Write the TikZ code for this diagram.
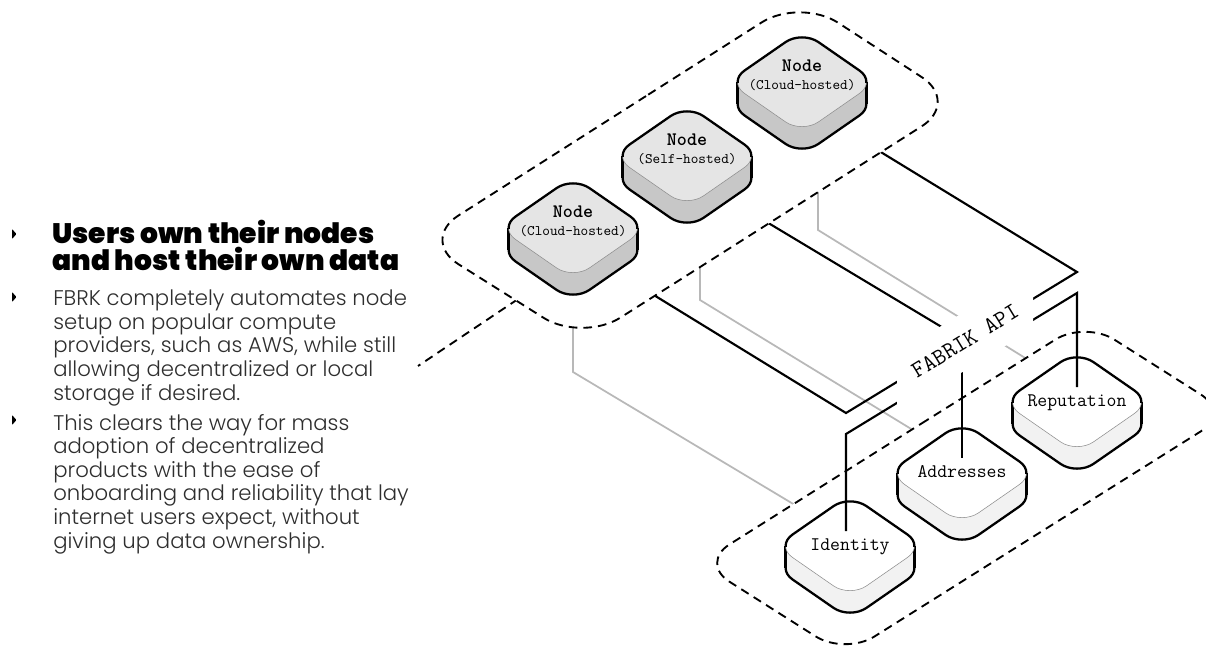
\documentclass[tikz,border=0pt]{standalone}
\usepackage{fontspec}
\newfontfamily\headfont{Poppins Black}
\newfontfamily\bodyfont{Poppins Light}
\usetikzlibrary{calc}
\pgfdeclarelayer{back}
\pgfdeclarelayer{lower}
\pgfdeclarelayer{links}
\pgfdeclarelayer{upper}
\pgfdeclarelayer{front}
\pgfsetlayers{back,lower,main,links,upper,front}
\colorlet{hostface}{black!10}
\colorlet{hostside}{black!22}
\colorlet{storeface}{white}
\colorlet{storeside}{black!5}
\colorlet{linkgray}{black!28}
\colorlet{bodygray}{black!82}
\newcommand{\subfont}{\fontsize{10.9}{12}\selectfont}

\tikzset{
  block edge/.style={line width=1.7pt, line join=round},
  plane line/.style={draw=black, line width=1.4pt, dash pattern=on 6.5pt off 4.5pt},
  plane/.style={plane line, fill=white, rounded corners=26pt},
  api link/.style={line width=1.6pt},
  data link/.style={draw=linkgray, line width=1.3pt},
  host label/.style={font=\ttfamily\fontsize{14.3}{13.5}\selectfont, align=center, yshift=5.25pt},
  store label/.style={font=\ttfamily\fontsize{14.4}{16}\selectfont, text height=9pt, text depth=3pt, inner sep=5pt},
  api label/.style={font=\ttfamily\fontsize{17.6}{20}\selectfont, rotate=31.4},
  heading/.style={anchor=base west, inner sep=0pt, align=left, font=\headfont\fontsize{21.1}{20.25}\selectfont},
  body/.style={anchor=base west, inner sep=0pt, align=left, text=bodygray, font=\bodyfont\fontsize{15.9}{17.7}\selectfont},
  bullet/.style={fill=black, rounded corners=0.6pt},
}

% rounded isometric block: #1 name, #2 centre, #3 face, #4 side, #5 label style, #6 text
\newcommand{\isoblock}[6]{%
  \filldraw[block edge, fill=#4, rounded corners=15pt] ($(#2)+(-37,47.65)$) -- ($(#2)+(-74,22)$) -- ($(#2)+(0,-29.3)$) -- ($(#2)+(74,22)$) -- ($(#2)+(0,73.3)$) -- cycle;
  \fill[#4] ($(#2)+(-64.4,0)$) rectangle ($(#2)+(64.4,22)$);
  \draw[block edge] ($(#2)+(-64.4,0)$) -- ++(0,22) ($(#2)+(64.4,0)$) -- ++(0,22);
  \filldraw[fill=#3, draw=black!45, thin, rounded corners=15pt] ($(#2)+(-37,-25.65)$) -- ($(#2)+(0,-51.3)$) -- ($(#2)+(74,0)$) -- ($(#2)+(0,51.3)$) -- ($(#2)+(-74,0)$) -- cycle;
  \begin{scope}
    \clip ($(#2)+(-90,0)$) rectangle ($(#2)+(90,-70)$);
    \draw[block edge, rounded corners=15pt] ($(#2)+(-37,-25.65)$) -- ($(#2)+(0,-51.3)$) -- ($(#2)+(74,0)$) -- ($(#2)+(0,51.3)$) -- ($(#2)+(-74,0)$) -- cycle;
  \end{scope}
  \node[#5] (#1) at (#2) {#6};
}

\begin{document}
\begin{tikzpicture}[x=0.75pt, y=-0.75pt]
\useasboundingbox (0,0) rectangle (1206,653);
\begin{pgfonlayer}{back}
  \fill[white] (0,0) rectangle (1206,653);
\end{pgfonlayer}

% text column
\path[bullet] (12,229) -- (16.5,234) -- (12,239) -- cycle;
\path[bullet] (12,292) -- (16.5,297) -- (12,302) -- cycle;
\path[bullet] (12,415) -- (16.5,420) -- (12,425) -- cycle;
\node[heading] (title) at (52,270) {Users own their nodes\\and host their own data};
\node[body] (item1) at (53,400) {FBRK completely automates node\\setup on popular compute\\providers, such as AWS, while still\\allowing decentralized or local\\storage if desired.};
\node[body] (item2) at (53,548) {This clears the way for mass\\adoption of decentralized\\products with the ease of\\onboarding and reliability that lay\\internet users expect, without\\giving up data ownership.};

% data stores
\isoblock{id}{850,546}{storeface}{storeside}{store label}{Identity}
\isoblock{addr}{962,473}{storeface}{storeside}{store label}{Addresses}
\isoblock{rep}{1077,402}{storeface}{storeside}{store label}{Reputation}

% hosting nodes
\begin{pgfonlayer}{front}
\isoblock{n1}{573,228}{hostface}{hostside}{host label}{\textbf{Node}\\\subfont(Cloud-hosted)}
\isoblock{n2}{687,156}{hostface}{hostside}{host label}{\textbf{Node}\\\subfont(Self-hosted)}
\isoblock{n3}{802,82}{hostface}{hostside}{host label}{\textbf{Node}\\\subfont(Cloud-hosted)}
\end{pgfonlayer}

% api wall
\coordinate (apiTL) at (846,413);
\coordinate (apiTR) at (1077,272);
\coordinate (apiBL) at (846,434);
\coordinate (apiBR) at (1077,293);
\coordinate (apimid) at (965,341);
\begin{pgfonlayer}{front}
\fill[white] ($(apimid)+(-68,12)$) -- ($(apimid)+(68,-71)$) -- ($(apimid)+(68,-12)$) -- ($(apimid)+(-68,71)$) -- cycle;
\node[api label] (api) at (apimid) {FABRIK API};
\end{pgfonlayer}

% planes
\begin{pgfonlayer}{lower}
\path[plane] (892,442) -- (1085,321) -- (1230,413) -- (845,655) -- (700,563) -- cycle;
\end{pgfonlayer}
\begin{pgfonlayer}{upper}
\draw[plane line] (530,291) -- (418,366);
\path[plane, rounded corners=34pt] (610,119) -- (800,-2) -- (960,102) -- (582,342) -- (420,240) -- cycle;
\end{pgfonlayer}

% links
\begin{pgfonlayer}{back}
\draw[data link] ($(n1)+(0,20)$) -- ($(n1)+(0,151)$) -- ($(id)+(0,-8)$);
\draw[data link] ($(n2)+(13,20)$) -- ($(n2)+(13,151)$) -- ($(addr)+(0,-13)$);
\draw[data link] ($(n3)+(16,20)$) -- ($(n3)+(16,155)$) -- ($(rep)+(0,-12)$);
\end{pgfonlayer}
\begin{pgfonlayer}{links}
\draw[api link] ($(n1)+(27,41)$) -- (apiTL) -- (apiTR) -- ($(n3)+(28,46)$);
\draw[api link] ($(n2)+(28,42)$) -- (api.center);
\draw[api link] (apiBL |- id.north) -- (apiBL) -- (apiBR) -- (rep.north);
\draw[api link] (addr.center |- api.center) -- (addr.north);
\end{pgfonlayer}
\end{tikzpicture}
\end{document}
